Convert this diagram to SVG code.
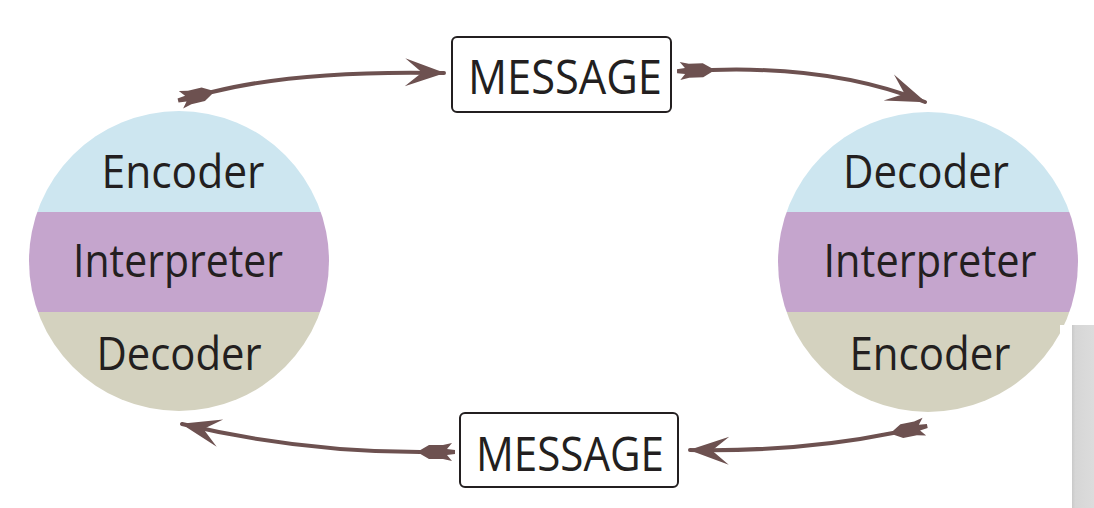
<svg xmlns="http://www.w3.org/2000/svg" width="1094" height="508" viewBox="0 0 1094 508">
  <style>
    .lbl { font-family: "Open Sans", "Noto Sans", "Liberation Sans", sans-serif; fill: #231f20; text-anchor: middle; }
    .c { font-size: 45px; }
    .m { font-size: 48px; }
    .box { fill: #ffffff; stroke: #231f20; stroke-width: 2; }
    .conn { fill: none; stroke: #6d5150; stroke-width: 4; stroke-linecap: round; }
    .blue { fill: #cde6f0; }
    .purple { fill: #c5a5cd; }
    .beige { fill: #d4d2bf; }
  </style>
  <defs>
    <clipPath id="clipL"><circle cx="179" cy="261" r="150"/></clipPath>
    <clipPath id="clipR"><circle cx="928" cy="262" r="150"/></clipPath>
    <marker id="head" markerUnits="userSpaceOnUse" markerWidth="50" markerHeight="40" viewBox="-45 -20 50 40" refX="0" refY="0" orient="auto" overflow="visible">
      <path d="M1,0 L-39,-14 L-22,0 L-39,14 Z" fill="#6d5150"/>
    </marker>
    <marker id="tail" markerUnits="userSpaceOnUse" markerWidth="50" markerHeight="40" viewBox="-45 -20 50 40" refX="0" refY="0" orient="auto" overflow="visible">
      <path d="M3,0 L-9,-7 L-23,-7 L-32,-9 L-27,-3 L-35,-2 L-35,2 L-27,3 L-32,9 L-23,7 L-9,7 Z" fill="#6d5150"/>
    </marker>
    <linearGradient id="gray" x1="0" y1="0" x2="1" y2="0">
      <stop offset="0" stop-color="#c9c9c9"/>
      <stop offset="0.15" stop-color="#d6d6d6"/>
      <stop offset="1" stop-color="#dcdcdc"/>
    </linearGradient>
  </defs>
  <rect width="1094" height="508" fill="#ffffff"/>

  <g id="node-left-circle">
    <g clip-path="url(#clipL)">
      <rect class="blue" x="20" y="100" width="320" height="112"/>
      <rect class="purple" x="20" y="212" width="320" height="100"/>
      <rect class="beige" x="20" y="312" width="320" height="110"/>
    </g>
    <text class="lbl c" x="183" y="188" textLength="163" lengthAdjust="spacingAndGlyphs">Encoder</text>
    <text class="lbl c" x="178" y="277" textLength="210" lengthAdjust="spacingAndGlyphs">Interpreter</text>
    <text class="lbl c" x="179" y="370" textLength="165" lengthAdjust="spacingAndGlyphs">Decoder</text>
  </g>

  <g id="node-right-circle">
    <g clip-path="url(#clipR)">
      <rect class="blue" x="770" y="100" width="320" height="112"/>
      <rect class="purple" x="770" y="212" width="320" height="100"/>
      <rect class="beige" x="770" y="312" width="320" height="110"/>
    </g>
    <text class="lbl c" x="926" y="188" textLength="166" lengthAdjust="spacingAndGlyphs">Decoder</text>
    <text class="lbl c" x="930" y="277" textLength="213" lengthAdjust="spacingAndGlyphs">Interpreter</text>
    <text class="lbl c" x="930" y="370" textLength="161" lengthAdjust="spacingAndGlyphs">Encoder</text>
  </g>

  <g id="node-message-top">
    <rect class="box" x="452" y="37" width="219" height="75" rx="5"/>
    <text class="lbl m" x="565" y="94" textLength="194" lengthAdjust="spacingAndGlyphs">MESSAGE</text>
  </g>

  <g id="node-message-bottom">
    <rect class="box" x="460" y="413" width="218" height="74" rx="5"/>
    <text class="lbl m" x="570" y="471" textLength="188" lengthAdjust="spacingAndGlyphs">MESSAGE</text>
  </g>

  <g id="connectors">
    <path class="conn" d="M212,92 Q300,70 444,73" marker-start="url(#tail)" marker-end="url(#head)"/>
    <path class="conn" d="M712,70 Q835,66 925,102" marker-start="url(#tail)" marker-end="url(#head)"/>
    <path class="conn" d="M420,452 Q300,452 182,424" marker-start="url(#tail)" marker-end="url(#head)"/>
    <path class="conn" d="M893,433 Q800,452 690,450" marker-start="url(#tail)" marker-end="url(#head)"/>
  </g>

  <rect x="1060" y="325" width="34" height="183" fill="#ffffff"/>
  <rect x="1072" y="325" width="22" height="183" fill="url(#gray)"/>
</svg>
